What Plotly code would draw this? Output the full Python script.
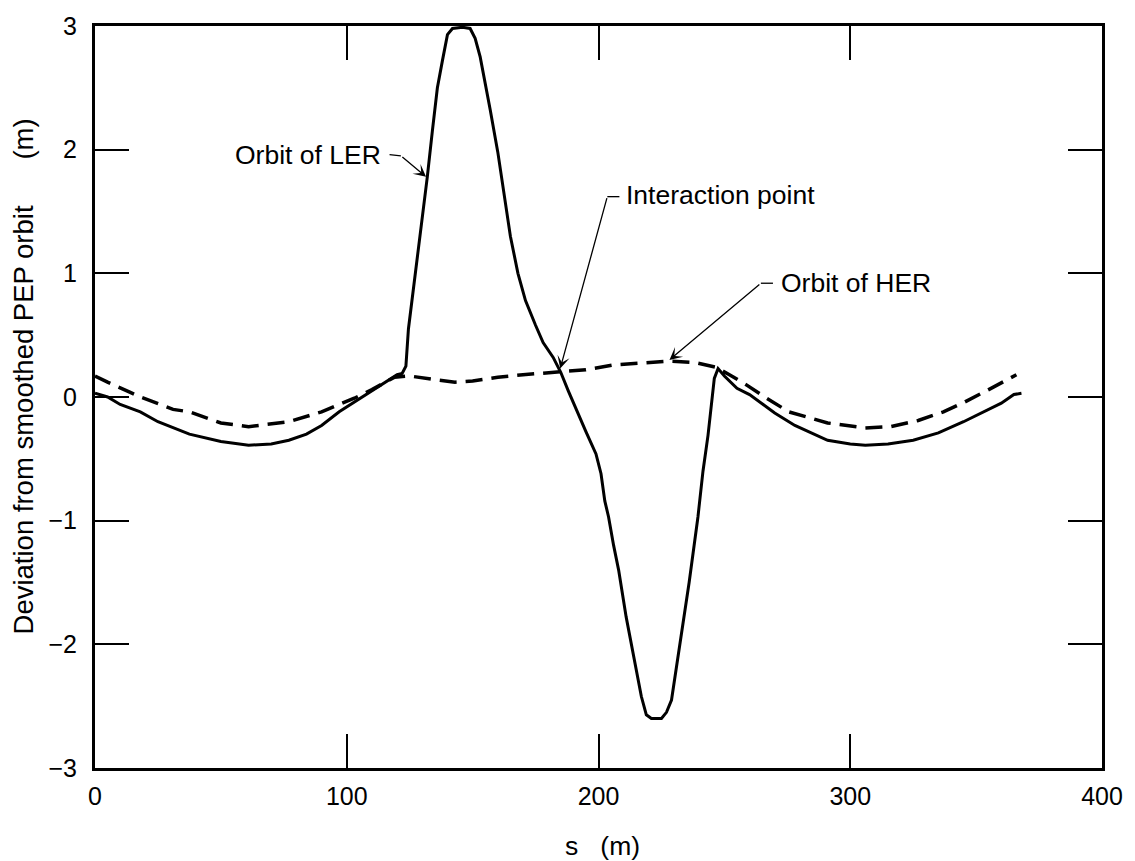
import plotly.graph_objects as go

# Closed-orbit deviation along s for the two rings
s_ler = [0, 5, 10, 18, 25, 37.5, 50, 61, 70, 77, 84, 90, 97, 103, 110, 116, 120,
         122, 123.5, 124.5, 126, 128, 130, 132, 134, 136, 138, 140, 142, 146, 149,
         151, 153, 155, 157, 160, 162.5, 165, 168, 171, 175, 178, 182, 185, 188,
         191.5, 195, 199, 201, 202.5, 204, 206, 208, 211, 214.5, 217, 219, 221,
         225, 227, 229, 232, 236, 239.5, 241.5, 243.5, 246, 247.5, 250, 255, 260,
         270, 278, 291, 300, 306, 315, 325, 335, 345, 352, 360, 365, 368]
dev_ler = [0.03, 0.0, -0.06, -0.12, -0.2, -0.3, -0.36, -0.39, -0.38, -0.35, -0.3,
           -0.23, -0.12, -0.04, 0.05, 0.13, 0.18,
           0.19, 0.25, 0.55, 0.8, 1.1, 1.45, 1.78, 2.15, 2.5, 2.72, 2.93, 2.98, 2.99,
           2.98, 2.9, 2.75, 2.52, 2.32, 1.98, 1.62, 1.3, 1.0, 0.78, 0.58, 0.44, 0.32,
           0.2, 0.05, -0.12, -0.28, -0.46, -0.62, -0.84, -0.97, -1.2, -1.4, -1.78,
           -2.15, -2.42, -2.57, -2.6, -2.6, -2.55, -2.45, -2.04, -1.5, -0.97, -0.6,
           -0.31, 0.15, 0.23, 0.17, 0.07, 0.02, -0.13, -0.23, -0.35, -0.38, -0.39,
           -0.38, -0.35, -0.29, -0.2, -0.13, -0.05, 0.02, 0.03]

s_her = [0, 5, 13.8, 18, 31, 37.5, 50, 61, 77, 83.6, 90, 103, 110, 119, 125, 135,
         143, 150, 160, 170, 185, 195, 206, 218, 228, 238, 246.7, 252, 258.6, 266,
         275.6, 291, 306, 316, 327, 337, 345.5, 355, 366]
dev_her = [0.17, 0.12, 0.04, 0.0, -0.1, -0.12, -0.21, -0.24, -0.2, -0.16, -0.12,
           -0.01, 0.06, 0.16, 0.17, 0.14, 0.12, 0.13, 0.16, 0.18, 0.2, 0.22, 0.26,
           0.28, 0.29, 0.28, 0.24, 0.18, 0.1, 0.0, -0.12, -0.21, -0.25, -0.24,
           -0.19, -0.12, -0.04, 0.06, 0.18]

x_ticks = [0, 100, 200, 300, 400]
y_ticks = [-3, -2, -1, 0, 1, 2, 3]

FONT = "Liberation Sans, Arial, Helvetica, sans-serif"
NB = "\u00a0"

fig = go.Figure()
fig.add_trace(go.Scatter(x=s_ler, y=dev_ler, mode="lines", name="LER",
                         line=dict(color="black", width=3)))
fig.add_trace(go.Scatter(x=s_her, y=dev_her, mode="lines", name="HER",
                         line=dict(color="black", width=3.5, dash="17px,9px")))

axis_common = dict(
    showgrid=False, zeroline=False, showline=True, linecolor="black", linewidth=3,
    mirror="ticks", ticks="inside", ticklen=34, tickwidth=2, tickcolor="black",
    tickfont=dict(family=FONT, size=25, color="black"),
)
fig.update_xaxes(range=[0, 400], tickvals=x_ticks, ticklabelstandoff=4, **axis_common)
fig.update_yaxes(range=[-3, 3], tickvals=y_ticks, ticklabelstandoff=10, **axis_common)

ann_font = dict(family=FONT, size=26.5, color="black")
annotations = [
    # axis titles
    dict(text="Deviation from smoothed PEP orbit" + NB * 6 + "(m)", textangle=-90,
         xref="paper", yref="paper", x=-0.071, y=0.527, showarrow=False,
         xanchor="center", yanchor="middle",
         font=dict(family=FONT, size=27.5, color="black")),
    dict(text="s" + NB * 3 + "(m)", xref="paper", yref="paper", x=0.504, y=-0.105,
         showarrow=False, xanchor="center", yanchor="middle", font=ann_font),
    # labels
    dict(text="Orbit of LER", x=114.5, y=1.96, xanchor="right", yanchor="middle",
         showarrow=False, font=ann_font),
    dict(text="Interaction point", x=210.0, y=1.63, xanchor="left", yanchor="middle",
         showarrow=False, font=ann_font),
    dict(text="Orbit of HER", x=271.6, y=0.92, xanchor="left", yanchor="middle",
         showarrow=False, font=ann_font),
]
arrow_style = dict(text="", showarrow=True, arrowhead=3, arrowsize=1.6,
                   arrowwidth=1.3, arrowcolor="black", axref="x", ayref="y",
                   standoff=0, startstandoff=0)
annotations += [
    dict(x=131.5, y=1.78, ax=121.5, ay=1.95, **arrow_style),
    dict(x=184.8, y=0.23, ax=203.5, ay=1.62, **arrow_style),
    dict(x=228.2, y=0.30, ax=264.5, ay=0.92, **arrow_style),
]
fig.update_layout(annotations=annotations)

# short leader strokes joining each label to its arrow
leaders = [(117.0, 1.96, 121.5, 1.95), (203.5, 1.62, 208.3, 1.62), (264.5, 0.92, 269.3, 0.92)]
for x0, y0, x1, y1 in leaders:
    fig.add_shape(type="line", x0=x0, y0=y0, x1=x1, y1=y1, xref="x", yref="y",
                  line=dict(color="black", width=1.3))

fig.update_layout(
    width=1135, height=861,
    margin=dict(l=95, r=27, t=17, b=93),
    plot_bgcolor="white", paper_bgcolor="white",
    showlegend=False,
    font=dict(family=FONT, color="black"),
)

fig.write_html("out.html")
